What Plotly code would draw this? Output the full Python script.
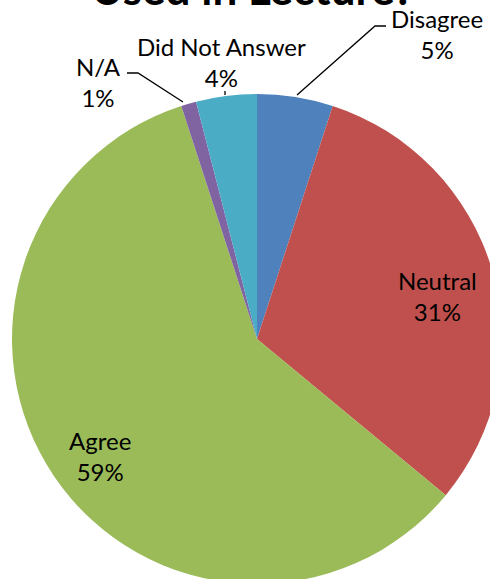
import plotly.graph_objects as go

# Survey responses, in the order the slices run clockwise from 12 o'clock
categories = ["Disagree", "Neutral", "Agree", "N/A", "Did Not Answer"]
percents = [5, 31, 59, 1, 4]
slice_colors = ["#4F81BD", "#C0504D", "#9BBB59", "#8064A2", "#4BACC6"]
title_text = "Used in Lecture?"

W, H = 520, 620          # canvas is larger than the window; the pie runs off the right/bottom
CX, CY, R = 257, 339, 245  # pie centre and radius in pixels (from top-left)


def px(x):
    return x / W


def py(y):
    return 1 - y / H


fig = go.Figure(
    go.Pie(
        labels=categories,
        values=percents,
        sort=False,
        direction="clockwise",
        rotation=0,
        marker=dict(colors=slice_colors, line=dict(width=0)),
        textinfo="none",
        hoverinfo="label+percent",
        showlegend=False,
        domain=dict(x=[px(CX - R), px(CX + R)], y=[py(CY + R), py(CY - R)]),
    )
)

label_font = dict(family="Lato, Calibri, sans-serif", size=24, color="#000000")

# data label placement (pixel centres of each two-line label)
label_pos = {
    "Disagree": (437, 34),
    "Neutral": (437, 296),
    "Agree": (100, 456),
    "N/A": (98, 82),
    "Did Not Answer": (221, 62),
}

annotations = []
for cat, pct in zip(categories, percents):
    x, y = label_pos[cat]
    annotations.append(
        dict(
            x=px(x), y=py(y), xref="paper", yref="paper",
            text=f"{cat}<br>{pct}%", showarrow=False,
            xanchor="center", yanchor="middle", align="center",
            font=label_font,
        )
    )

annotations.append(
    dict(
        x=px(252), y=py(16), xref="paper", yref="paper",
        text=f"<b>{title_text}</b>", showarrow=False,
        xanchor="center", yanchor="bottom",
        font=dict(family="Lato, Calibri, sans-serif", size=44, color="#000000"),
    )
)

# leader lines for the labels placed outside the pie
leaders = [
    [(297, 95), (375, 26), (386, 26)],   # Disagree
    [(127, 73), (138, 73), (183, 102)],  # N/A
    [(225, 91), (225, 95)],              # Did Not Answer
]
shapes = []
for pts in leaders:
    path = "M " + " L ".join(f"{px(x)},{py(y)}" for x, y in pts)
    shapes.append(
        dict(type="path", xref="paper", yref="paper", path=path,
             line=dict(color="#000000", width=1.3))
    )

fig.update_layout(
    width=W, height=H,
    margin=dict(l=0, r=0, t=0, b=0),
    paper_bgcolor="#FFFFFF",
    plot_bgcolor="#FFFFFF",
    annotations=annotations,
    shapes=shapes,
)

fig.write_html(
    "out.html",
    post_script=(
        "document.documentElement.style.overflow='hidden';"
        "document.body.style.overflow='hidden';"
        "document.body.style.margin='0';"
    ),
)
